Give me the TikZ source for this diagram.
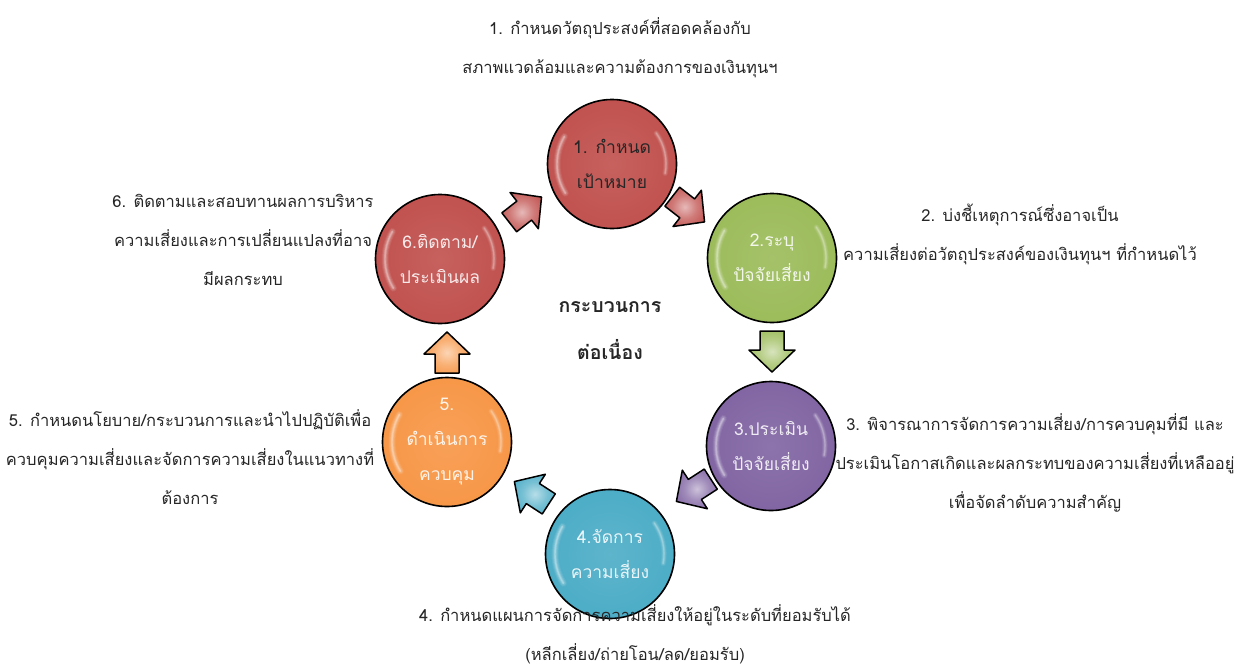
\documentclass[tikz,border=0pt]{standalone}
\usepackage{fontspec}
\setmainfont[Script=Thai]{Loma}
\usetikzlibrary{calc}

\definecolor{cred}{HTML}{C0504D}
\definecolor{cgreen}{HTML}{9BBB59}
\definecolor{cpurple}{HTML}{8064A2}
\definecolor{cblue}{HTML}{4BACC6}
\definecolor{corange}{HTML}{F79646}
\definecolor{ink}{HTML}{262626}
\colorlet{ballc}{cred}

% glossy disc: light core, base body, darker rim
\pgfdeclareradialshading[ballc]{glossy}{\pgfpoint{0bp}{0bp}}{%
  color(0bp)=(ballc!90!white); color(28bp)=(ballc); color(42bp)=(ballc!93!black);
  color(47bp)=(ballc!75!black); color(50bp)=(ballc!60!black)}
% block arrows: lighter centre fading to base colour
\pgfdeclareradialshading[ballc]{arrowsh}{\pgfpoint{0bp}{0bp}}{%
  color(0bp)=(ballc!40!white); color(15bp)=(ballc!75!white); color(32bp)=(ballc); color(50bp)=(ballc!80!black)}

\tikzset{
  ball/.style={circle, draw=black, line width=1.6pt, minimum size=129pt, inner sep=0pt,
    /utils/exec={\colorlet{ballc}{#1}}, shading=glossy, align=center,
    font=\fontsize{17.5}{35}\selectfont, text=white!88!#1},
  arrowbody/.style={shading=arrowsh, draw=black, line width=1.5pt, line join=round},
  note/.style={align=center, text=ink, font=\fontsize{16.5}{39}\selectfont, inner sep=0pt},
  hilite/.style={white, line cap=round}
}

% soft white glare streaks on a disc
\newcommand{\gloss}[1]{%
  \foreach \w/\o in {7/0.08, 5/0.12, 3/0.18, 1.4/0.25} {
    \draw[hilite, line width=\w pt, opacity=\o] ([shift={(-212:55)}]#1.center) arc (-212:-150:55);
    \draw[hilite, line width=0.8*\w pt, opacity=0.8*\o] ([shift={(-35:54)}]#1.center) arc (-35:10:54);
  }
}

% block arrow centred on a coordinate, pointing along the given angle
\newcommand{\barrow}[3]{%
  \begin{scope}[shift={(#1)}, rotate=#3]
    \colorlet{ballc}{#2}
    \shade[arrowbody] (-20,-12) -- (-1,-12) -- (-1,-23) -- (21,0) -- (-1,23) -- (-1,12) -- (-20,12) -- cycle;
  \end{scope}}

\begin{document}
\begin{tikzpicture}[x=1pt,y=-1pt]
\useasboundingbox (0,0) rectangle (1242,667);

% the six stages
\node[ball=cred, text=ink] (c1) at (612,164) {1. กำหนด\\เป้าหมาย};
\node[ball=cgreen]  (c2) at (772,258) {2.ระบุ\\ปัจจัยเสี่ยง};
\node[ball=cpurple] (c3) at (771,446) {3.ประเมิน\\ปัจจัยเสี่ยง};
\node[ball=cblue]   (c4) at (610,554) {4.จัดการ\\ความเสี่ยง};
\node[ball=corange] (c5) at (447,442) {5.\\ดำเนินการ\\ควบคุม};
\node[ball=cred]    (c6) at (440,259) {6.ติดตาม/\\ประเมินผล};
\foreach \c in {c1,c2,c3,c4,c5,c6} {\gloss{\c}}

% block arrows between the stages
\coordinate (a12) at (688,209);
\coordinate (a23) at (772,351);
\coordinate (a34) at (694,490);
\coordinate (a45) at (532,493);
\coordinate (a56) at (447,353);
\coordinate (a61) at (525,210);
\barrow{a12}{cred}{-38}
\barrow{a23}{cgreen}{-90}
\barrow{a34}{cpurple}{213}
\barrow{a45}{cblue}{147}
\barrow{a56}{corange}{90}
\barrow{a61}{cred}{38}

% centre caption
\node[align=center, text=ink, font=\bfseries\fontsize{19.5}{47}\selectfont] (mid) at (610,331) {กระบวนการ\\ต่อเนื่อง};

% descriptions
\node[note] (t1) at (620,48) {1. กำหนดวัตถุประสงค์ที่สอดคล้องกับ\\สภาพแวดล้อมและความต้องการของเงินทุนฯ};
\node[note] (t2) at (1020,234) {2. บ่งชี้เหตุการณ์ซึ่งอาจเป็น\\ความเสี่ยงต่อวัตถุประสงค์ของเงินทุนฯ ที่กำหนดไว้};
\node[note] (t3) at (1035,463) {3. พิจารณาการจัดการความเสี่ยง/การควบคุมที่มี และ\\ประเมินโอกาสเกิดและผลกระทบของความเสี่ยงที่เหลืออยู่\\เพื่อจัดลำดับความสำคัญ};
\node[note] (t4) at (635,634) {4. กำหนดแผนการจัดการความเสี่ยงให้อยู่ในระดับที่ยอมรับได้\\(หลีกเลี่ยง/ถ่ายโอน/ลด/ยอมรับ)};
\node[note] (t5) at (190,457) {5. กำหนดนโยบาย/กระบวนการและนำไปปฏิบัติเพื่อ\\ควบคุมความเสี่ยงและจัดการความเสี่ยงในแนวทางที่\\ต้องการ};
\node[note] (t6) at (243,240) {6. ติดตามและสอบทานผลการบริหาร\\ความเสี่ยงและการเปลี่ยนแปลงที่อาจ\\มีผลกระทบ};
\end{tikzpicture}
\end{document}
